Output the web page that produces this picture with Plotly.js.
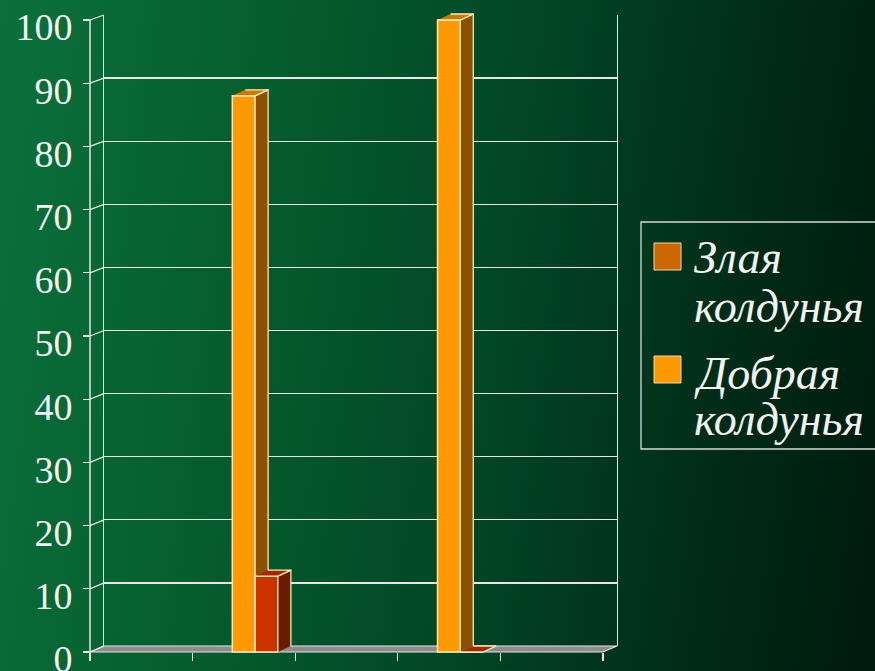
<!DOCTYPE html>
<html>
<head>
<meta charset="utf-8">
<script src="https://cdn.plot.ly/plotly-3.0.1.min.js"></script>
<style>
  html, body { margin: 0; padding: 0; width: 875px; height: 671px; overflow: hidden; }
  body { background: linear-gradient(98deg, #0b703c 0%, #06602f 25%, #024726 55%, #012c17 80%, #001a0d 100%); }
  #chart { width: 875px; height: 671px; }
</style>
</head>
<body>
<div id="chart"></div>
<script>
// ---- data ----
const categories = [0, 1, 2, 3, 4];
const seriesNames = ['Злая колдунья', 'Добрая колдунья'];
const legendLines = [['Злая', 'колдунья'], ['Добрая', 'колдунья']];
const dobraya = [null, 88, null, 100, null];
const zlaya = [null, 12, null, 0, null];
const yTicks = [0, 10, 20, 30, 40, 50, 60, 70, 80, 90, 100];
const xBounds = [-0.5, 0.5, 1.5, 2.5, 3.5, 4.5];

// ---- geometry helpers (paper coordinates from pixels) ----
const W = 875, H = 671;
const PX = p => p / W;
const PY = p => 1 - p / H;
const frontY = v => 652 - v * 6.32;
const backY = v => 646 - v * 6.31;

const BAR_W = 0.222;
const OFF_DOB = -0.113, OFF_ZL = 0.109;
const DX = 0.127, DY = 0.95;
const EDGE = '#ffe6b8';
const SERIF = 'Liberation Serif, Times New Roman, serif';

function faces(vals, off) {
  const side = {x: [], y: []}, top = {x: [], y: []};
  vals.forEach((v, i) => {
    if (v === null) return;
    const xl = categories[i] + off, xr = xl + BAR_W;
    side.x.push(xr, xr, xr + DX, xr + DX, null);
    side.y.push(0, v, v + DY, DY, null);
    top.x.push(xl, xr, xr + DX, xl + DX, null);
    top.y.push(v, v, v + DY, v + DY, null);
  });
  return {side, top};
}

function series(vals, off, name, front, sideC, topC, xa, ya) {
  const f = faces(vals, off);
  return [
    {type: 'bar', x: categories, y: vals, name: name, width: BAR_W, offset: off,
     xaxis: xa, yaxis: ya, marker: {color: front, line: {color: EDGE, width: 1.5}},
     hoverinfo: 'skip', showlegend: false},
    {type: 'scatter', mode: 'lines', x: f.side.x, y: f.side.y, fill: 'toself', fillcolor: sideC,
     line: {color: EDGE, width: 1.3}, xaxis: xa, yaxis: ya, hoverinfo: 'skip', showlegend: false},
    {type: 'scatter', mode: 'lines', x: f.top.x, y: f.top.y, fill: 'toself', fillcolor: topC,
     line: {color: EDGE, width: 1.3}, xaxis: xa, yaxis: ya, hoverinfo: 'skip', showlegend: false}
  ];
}

const traces = [
  {type: 'scatter', x: [], y: [], xaxis: 'x', yaxis: 'y', hoverinfo: 'skip', showlegend: false},
  ...series(dobraya, OFF_DOB, seriesNames[1], '#ff9900', '#8a5200', '#c47d00', 'x2', 'y2'),
  ...series(zlaya, OFF_ZL, seriesNames[0], '#cc3300', '#6a1c00', '#9e2a00', 'x3', 'y3')
];

const LINE = '#e6e6e6';
const shapes = [];
// floor
shapes.push({type: 'path', xref: 'paper', yref: 'paper', layer: 'below',
  path: `M${PX(90)},${PY(652)} L${PX(603)},${PY(652)} L${PX(617)},${PY(646)} L${PX(104)},${PY(646)} Z`,
  fillcolor: '#8c8c8c', line: {color: LINE, width: 1.2}});
// front vertical axis line
shapes.push({type: 'line', xref: 'paper', yref: 'paper', x0: PX(90), x1: PX(90),
  y0: PY(frontY(100)), y1: PY(661), line: {color: LINE, width: 1.5}});
// connectors front tick -> back gridline
yTicks.forEach(v => {
  shapes.push({type: 'line', xref: 'paper', yref: 'paper', x0: PX(90), x1: PX(104),
    y0: PY(frontY(v)), y1: PY(backY(v)), line: {color: LINE, width: 1.3}});
});
// legend box
shapes.push({type: 'rect', xref: 'paper', yref: 'paper', x0: PX(641), x1: PX(890),
  y0: PY(222), y1: PY(449), line: {color: '#d8d8d8', width: 1.3}, fillcolor: 'rgba(0,0,0,0)'});
const swatches = [[243, '#cc6600'], [356, '#ff9900']];
swatches.forEach(s => {
  shapes.push({type: 'rect', xref: 'paper', yref: 'paper', x0: PX(654), x1: PX(681),
    y0: PY(s[0]), y1: PY(s[0] + 27), fillcolor: s[1], line: {color: '#f0d8b0', width: 1}});
});

const lineCenters = [[258, 306], [373, 419]];
const annotations = [];
legendLines.forEach((lines, k) => {
  lines.forEach((t, j) => {
    annotations.push({xref: 'paper', yref: 'paper', x: PX(692), y: PY(lineCenters[k][j]),
      xanchor: 'left', yanchor: 'middle', showarrow: false, text: t,
      font: {family: SERIF, size: 46, style: 'italic', color: '#f2f2f2'}});
  });
});

const layout = {
  width: W, height: H,
  margin: {l: 0, r: 0, t: 0, b: 0, pad: 0},
  paper_bgcolor: 'rgba(0,0,0,0)', plot_bgcolor: 'rgba(0,0,0,0)',
  showlegend: false, barmode: 'overlay',
  xaxis: {domain: [PX(104), PX(617)], range: [0, 1], anchor: 'y', showgrid: false, zeroline: false,
    showticklabels: false, ticks: '', showline: false},
  yaxis: {domain: [PY(646), PY(15)], range: [0, 100], anchor: 'x', dtick: 10, showgrid: true,
    gridcolor: LINE, gridwidth: 1.3, showline: true, linecolor: LINE, linewidth: 1.3, mirror: true,
    showticklabels: false, zeroline: false, ticks: ''},
  xaxis2: {domain: [PX(90), PX(603)], range: [-0.5, 4.5], anchor: 'free', position: PY(652),
    tickmode: 'array', tickvals: xBounds, ticks: 'outside', ticklen: 8, tickwidth: 1.3, tickcolor: LINE,
    showticklabels: false, showgrid: false, zeroline: false, showline: false},
  yaxis2: {domain: [PY(frontY(-2)), PY(frontY(103))], range: [-2, 103], anchor: 'free', position: PX(90),
    tickmode: 'array', tickvals: yTicks, ticks: 'outside', ticklen: 7, tickwidth: 1.3, tickcolor: LINE,
    tickfont: {family: SERIF, size: 38, color: '#f2f2f2'}, ticklabeloverflow: 'allow',
    ticklabelshift: 7, ticklabelstandoff: 3,
    showgrid: false, zeroline: false, showline: false},
  xaxis3: {overlaying: 'x2', range: [-0.5, 4.5], visible: false},
  yaxis3: {overlaying: 'y2', range: [-2, 103], visible: false},
  shapes: shapes,
  annotations: annotations
};

Plotly.newPlot('chart', traces, layout, {staticPlot: true, displayModeBar: false});
</script>
</body>
</html>
